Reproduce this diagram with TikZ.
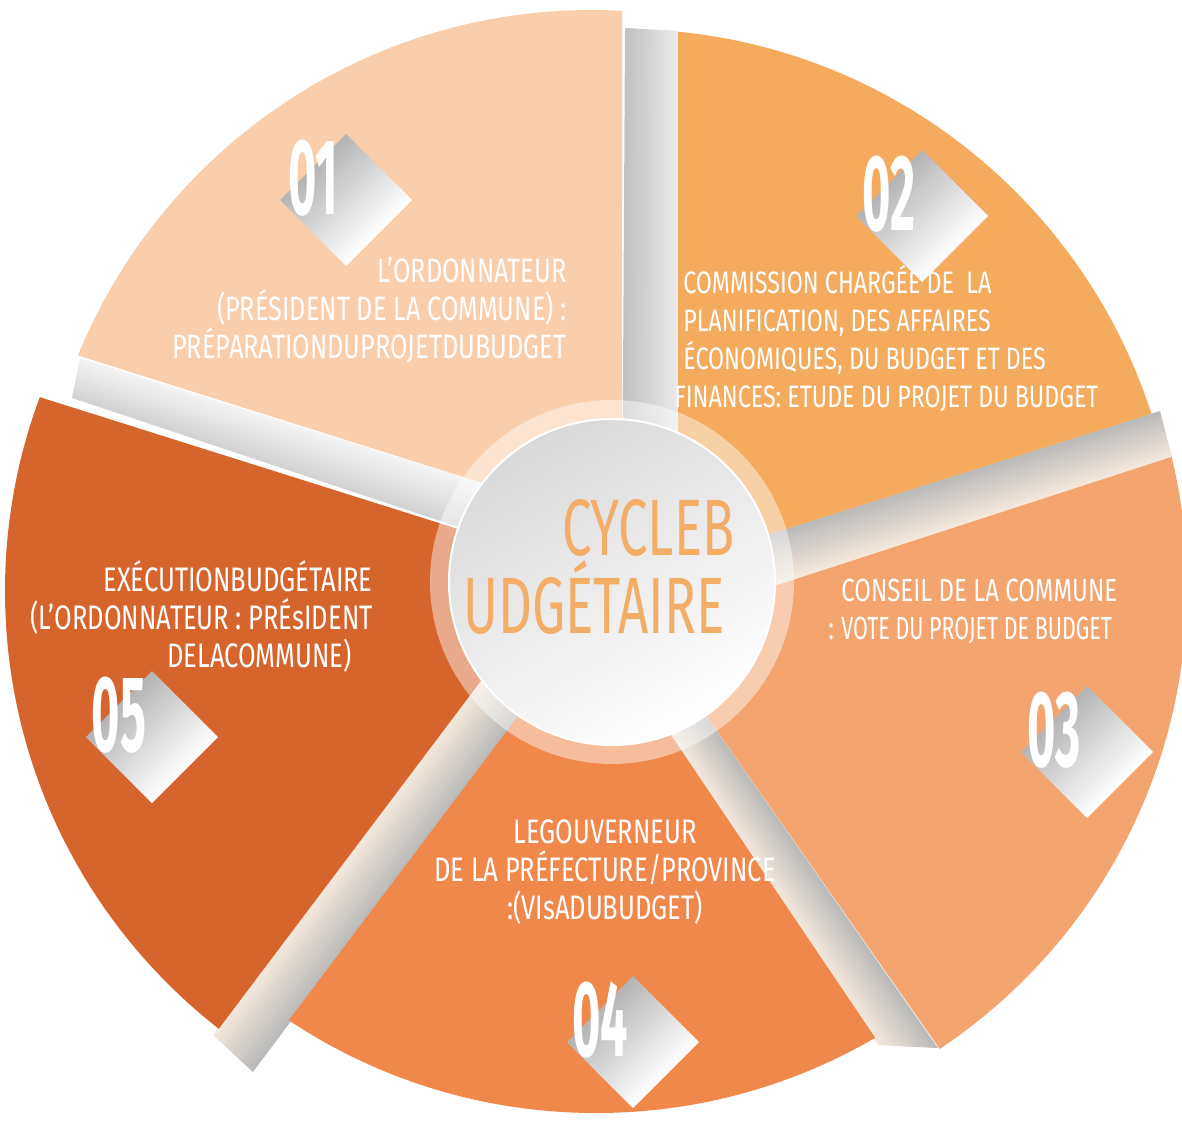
\documentclass[tikz,border=0pt]{standalone}
\usepackage{fontspec}
\setmainfont{Fira Sans}[FakeStretch=0.75]
\newfontfamily\numfont{Fira Sans}[FakeStretch=0.45]
\newfontfamily\hubfont{Fira Sans}[FakeStretch=0.66]
\newfontfamily\tightfont{Fira Sans}[FakeStretch=0.67]
\usetikzlibrary{calc}

\definecolor{secA}{HTML}{FACEAA}
\definecolor{secB}{HTML}{F4AB5E}
\definecolor{secC}{HTML}{F4A46F}
\definecolor{secD}{HTML}{F0874B}
\definecolor{secE}{HTML}{D6652D}
\definecolor{hubOrange}{HTML}{F2AD66}
\definecolor{cream}{HTML}{F6E9DC}
\colorlet{barDark}{gray!50}
\colorlet{barLight}{gray!16}
\colorlet{barGrey}{gray!55}
\colorlet{barPale}{gray!8}
\colorlet{barMid}{gray!35}
\colorlet{diaDark}{gray!60}

% fill the band between edge #1--#2 and edge #3--#4, colour #5 fading to #6
\newcommand\sidefade[6]{%
  \foreach \k in {0,...,23}{%
    \pgfmathsetmacro\ta{\k/24}%
    \pgfmathsetmacro\tb{min(1,(\k+1.4)/24)}%
    \pgfmathtruncatemacro\mix{100-100*(\k+0.5)/24}%
    \fill[#5!\mix!#6] ($#1!\ta!#3$) -- ($#2!\ta!#4$) -- ($#2!\tb!#4$) -- ($#1!\tb!#3$) -- cycle;
  }}

\begin{document}
\begin{tikzpicture}[x=0.5pt,y=-0.5pt,
  steptext/.style={text=white,inner sep=0pt,font=\fontsize{#1}{19}\selectfont},
  steptext/.default=16,
  numtext/.style={text=white,inner sep=0pt,font=\numfont\bfseries\fontsize{54}{54}\selectfont},
  hubtext/.style={text=hubOrange,inner sep=0pt,font=\hubfont\fontsize{40}{39}\selectfont}]

\useasboundingbox (0,0) rectangle (1182,1123);

% apex of each piece
\coordinate (apexA) at (622,527);
\coordinate (apexB) at (678,563);
\coordinate (apexC) at (645,628);
\coordinate (apexD) at (592,618);
\coordinate (apexE) at (569,564);

% grey side faces between the pieces
\sidefade{(622,560)}{(625,28)}{(678,560)}{(678,31)}{barDark}{barLight}
\sidefade{(apexB)}{(1160,411)}{(apexC)}{(1172,458)}{barGrey}{cream}
\sidefade{(apexD)}{(878,1045)}{(apexC)}{(938,1048)}{cream}{barGrey}
\sidefade{(apexE)}{(213,1035)}{(apexD)}{(253,1072)}{cream}{barGrey}
\sidefade{(apexA)}{(80,358)}{(apexE)}{(72,398)}{barPale}{barMid}

% the five pieces
\foreach \ax/\ay/\ra/\rb/\cx/\cy/\col in {622/527/-90/-162.5/592/565/secA,
    678/563/-17.5/-90/623/584/secB, 645/628/-18/55/632/587/secC,
    592/618/56/127/596/558/secD, 569/564/-162.5/-233/560/591/secE}{
  \begin{scope}
    \clip (\ax,\ay) -- ++(\ra:1400) -- ($(\ax,\ay)+(\rb:1400)$) -- cycle;
    \fill[\col] (\cx,\cy) circle (555);
  \end{scope}
}

% hub
\coordinate (hub) at (612,582);
\fill[white,opacity=0.45] (hub) circle (182);
\shade[top color=gray!30, bottom color=white, shading angle=30] (hub) circle (163);
\draw[white, line width=1pt] (hub) circle (163);
\node[hubtext, align=right, anchor=east] (hubtitle) at (735,567) {CYCLEB\\UDGÉTAIRE\hspace*{5pt}};

% number badges
\foreach \dx/\dy/\num in {346/200/01, 922/216/02, 1087/752/03, 633/1042/04, 152/737/05}{
  \sidefade{(\dx-66,\dy)}{(\dx,\dy-66)}{(\dx,\dy+66)}{(\dx+66,\dy)}{diaDark}{white}
  \node[numtext] (num\num) at (\dx-33,\dy-22) {\num};
}

% step texts
\node[steptext=16.9, align=right, anchor=east] (stepA) at (567,310) {L'ORDONNATEUR\\(PRÉSIDENT DE LA COMMUNE) :\\PRÉPARATIONDUPROJETDUBUDGET};
\node[steptext=15.5, align=left, anchor=west] (stepB) at (683,339) {COMMISSION CHARGÉE DE\ \ LA\\PLANIFICATION, DES AFFAIRES\\ÉCONOMIQUES, DU BUDGET ET DES\\\hspace*{-4.5pt}FINANCES: ETUDE DU PROJET DU BUDGET};
\node[steptext, align=left, anchor=west] (stepC) at (841,611) {CONSEIL DE LA COMMUNE\\{\tightfont\llap{: }VOTE DU PROJET DE BUDGET}};
\node[steptext=17, align=center] (stepD) at (605,872) {LEGOUVERNEUR\\DE LA PRÉFECTURE/PROVINCE\\:(VIsADUBUDGET)};
\node[steptext=17, align=right, anchor=east] (stepE) at (373,616) {EXÉCUTIONBUDGÉTAIRE\\(L'ORDONNATEUR : PRÉsIDENT\\DELACOMMUNE)\hspace*{10.5pt}};

\end{tikzpicture}
\end{document}
